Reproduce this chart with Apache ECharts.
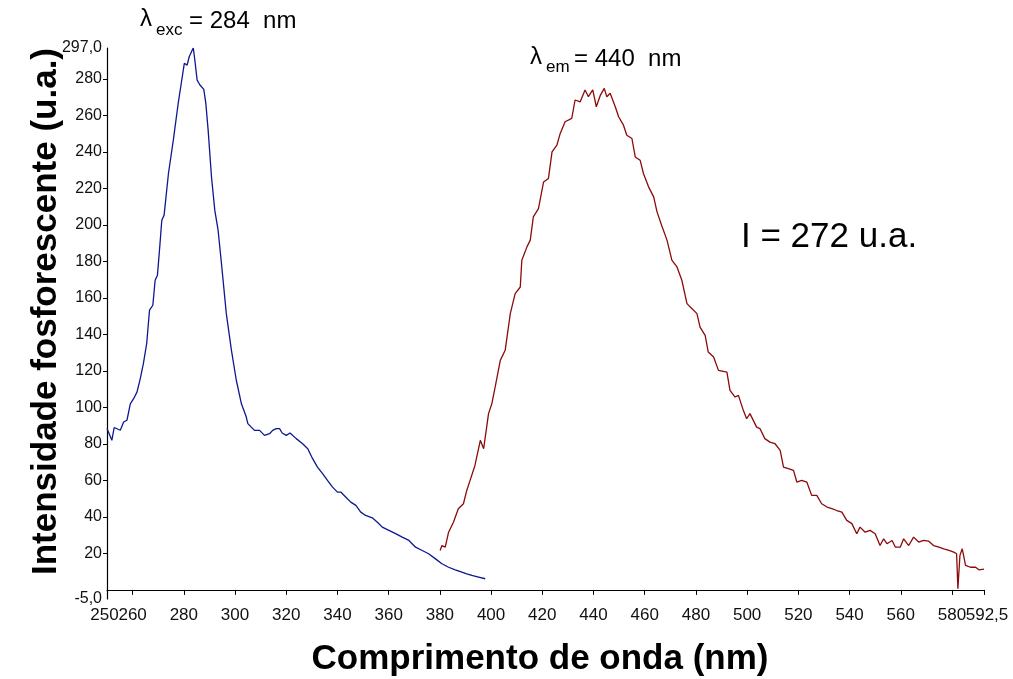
<!DOCTYPE html>
<html>
<head>
<meta charset="utf-8">
<script src="https://cdn.jsdelivr.net/npm/echarts@6/dist/echarts.min.js"></script>
<style>
  html, body { margin: 0; padding: 0; background: #fff; }
  #chart { width: 1013px; height: 679px; }
</style>
</head>
<body>
<div id="chart"></div>
<script>
// excitation spectrum (blue)
const excWavelength = [250, 251.9, 252.8, 255.2, 256.5, 257.8, 259.1, 260.4, 261.7, 263, 264.2, 265.5, 266.6, 267.9, 268.8, 269.7, 270.7, 271.4, 272.3, 274, 275.9, 277.8, 279.1, 280.2, 281.3, 282.1, 283, 283.7, 284.3, 285.2, 286.3, 287.8, 288.6, 289.5, 290.8, 292.1, 293.4, 294.7, 296.6, 298.6, 300.5, 302.5, 304.4, 305, 307.6, 309.6, 311.5, 313.5, 314.7, 316.1, 317.4, 318.4, 320, 321.5, 323.9, 326.4, 328.4, 330.3, 332.2, 334.2, 336.1, 338.1, 340, 341.3, 343.3, 345.2, 347.2, 349.1, 351, 353.6, 355.6, 357.5, 360.1, 362.7, 365.3, 367.9, 370.5, 373.1, 375.6, 378.3, 380.8, 383.4, 386, 388.6, 390.5, 392.5, 395.1, 397.7];
const excIntensity = [88.4, 82, 89, 87.5, 92, 93, 102, 104.8, 108.4, 115.8, 124, 135, 153.3, 156, 169.7, 172.5, 189.8, 202.6, 205.4, 228.2, 246.5, 266.6, 278.5, 288.6, 287.6, 292.2, 295, 297, 290.4, 279.4, 276.7, 274.3, 266.6, 252, 226.4, 208, 197, 178.9, 151.4, 131.3, 114.9, 102, 94.7, 91.1, 87.4, 87.4, 84.7, 85.6, 87.4, 88.4, 88.4, 86, 84.7, 86, 82.9, 80.1, 77.4, 71.9, 67.3, 63.7, 60, 56.3, 53.6, 53.6, 50.8, 48.1, 46.3, 42.6, 40.8, 39.5, 37.1, 34.4, 32.6, 30.8, 28.9, 27.1, 23.4, 21.6, 19.8, 17, 14.3, 12.4, 11, 9.7, 8.8, 7.9, 7, 6.1];

// emission spectrum (dark red)
const emWavelength = [380.1, 380.8, 382.1, 383.4, 384.0, 385.3, 387.2, 389.2, 390.5, 391.8, 393.7, 395.8, 397.1, 399.0, 400.3, 401.6, 403.6, 405.5, 407.5, 409.4, 411.4, 412.0, 414.0, 415.3, 416.5, 418.5, 420.5, 422.4, 423.8, 425.7, 427.0, 428.9, 431.5, 432.8, 434.8, 436.7, 438.0, 439.7, 441.1, 442.7, 444.2, 445.2, 446.5, 448.5, 449.8, 451.7, 453.0, 455.0, 456.3, 458.2, 459.5, 461.5, 463.5, 464.8, 466.8, 468.7, 470.6, 472.6, 474.5, 476.5, 477.8, 480.4, 481.6, 483.6, 484.8, 486.9, 488.8, 492.1, 493.3, 495.3, 496.6, 498.5, 499.8, 501.1, 503.7, 505.0, 506.9, 508.9, 510.9, 512.9, 514.2, 516.1, 518.1, 519.4, 521.3, 523.3, 525.2, 527.2, 529.1, 531.2, 533.1, 535.0, 537.0, 538.9, 540.9, 542.8, 544.1, 546.1, 548.0, 550.0, 551.9, 553.3, 554.6, 556.6, 557.9, 559.8, 561.1, 563.1, 565.0, 567.0, 568.9, 570.9, 572.8, 574.9, 576.8, 578.8, 580.7, 581.8, 582.3, 583.1, 584.0, 585.3, 587.2, 589.2, 590.5, 592.5];
const emIntensity = [21.6, 24.3, 23.4, 31.6, 30.8, 37.1, 44.5, 47.2, 54.5, 60, 68.2, 82, 77.4, 96.6, 102.1, 111.2, 125.8, 131.3, 151.4, 162.4, 166, 180.7, 188, 191.7, 204.4, 209, 223.6, 225.5, 240.1, 243.8, 250.2, 256.6, 258.4, 268.5, 267.5, 274, 270.3, 274, 264.8, 271.2, 274.9, 270.3, 272.2, 264.8, 259.3, 254.7, 249.2, 247.4, 237.3, 235.5, 228.2, 220.9, 215.4, 207.2, 199, 191.7, 180.7, 177, 169.7, 156.9, 155, 151.4, 144, 139.5, 130.4, 127.6, 120.3, 119.4, 109.4, 105.7, 106.6, 98.4, 93.8, 96.6, 89.2, 88.4, 82.9, 81, 80.1, 76.5, 67.3, 66.4, 65.5, 59.1, 60, 59.1, 51.8, 51.8, 47.2, 45.4, 44.5, 43.5, 42.6, 38.1, 36.3, 30.8, 34.4, 31.6, 32.6, 30.8, 24.3, 28, 25.3, 27.1, 23.4, 23.4, 28, 24.3, 28.9, 26.2, 27.1, 26.7, 24.3, 23.4, 22.5, 21.6, 20.7, 19.8, 0.6, 18.9, 22.5, 13.4, 12.4, 12.4, 11, 11.4];

const xTickValues = [260, 280, 300, 320, 340, 360, 380, 400, 420, 440, 460, 480, 500, 520, 540, 560, 580, 592.5];
const xLabelValues = [260, 280, 300, 320, 340, 360, 380, 400, 420, 440, 460, 480, 500, 520, 540, 560, 580];
const xEndLabels = [250, 592.5];
const yTickValues = [20, 40, 60, 80, 100, 120, 140, 160, 180, 200, 220, 240, 260, 280];
const yLabelValues = [-5, 20, 40, 60, 80, 100, 120, 140, 160, 180, 200, 220, 240, 260, 280, 297];

const fontFam = '"Liberation Sans", Arial, Helvetica, sans-serif'

// decimals written with a comma, like the original
const commaNum = v => Number.isInteger(v) ? String(v) : v.toFixed(1).replace('.', ',')

const zip = (xs, ys) => xs.map((x, i) => [x, ys[i]])

const labelText = { fontFamily: fontFam, fontSize: 17, color: '#111' }

const chart = echarts.init(document.getElementById('chart'))
chart.setOption({
  animation: false,
  grid: { left: 107, right: 29, top: 48, bottom: 80, outerBoundsMode: 'none' },
  xAxis: [
    {
      type: 'value',
      min: 250,
      max: 592.5,
      name: 'Comprimento de onda (nm)',
      nameLocation: 'middle',
      nameGap: 43,
      nameMoveOverlap: false,
      nameTextStyle: { fontFamily: fontFam, fontSize: 35, fontWeight: 'bold', color: '#000', padding: [0, 11, 0, 0] },
      splitLine: { show: false },
      axisLine: { lineStyle: { color: '#000', width: 1.2 } },
      axisTick: { show: true, length: 5, customValues: xTickValues, lineStyle: { color: '#000' } },
      axisLabel: { ...labelText, margin: 8, hideOverlap: false, customValues: xLabelValues, formatter: v => commaNum(v) }
    },
    {
      // second axis only for the end labels 250 and 592,5 (they touch their neighbours)
      type: 'value',
      position: 'bottom',
      min: 250,
      max: 592.5,
      splitLine: { show: false },
      axisLine: { show: false },
      axisTick: { show: false },
      axisLabel: {
        ...labelText,
        margin: 8,
        hideOverlap: false,
        showMinLabel: true,
        showMaxLabel: true,
        customValues: xEndLabels,
        formatter: v => v === 250 ? '{l|250}' : '{r|' + commaNum(v) + '}',
        rich: {
          l: { ...labelText, padding: [0, 5, 0, 0] },
          r: { ...labelText, padding: [0, 0, 0, 6] }
        }
      }
    }
  ],
  yAxis: {
    type: 'value',
    min: -5,
    max: 297,
    name: 'Intensidade fosforescente (u.a.)',
    nameLocation: 'middle',
    nameGap: 43,
    nameMoveOverlap: false,
    nameTextStyle: { fontFamily: fontFam, fontSize: 35, fontWeight: 'bold', color: '#000', padding: [0, 0, 0, 24] },
    splitLine: { show: false },
    axisLine: { show: true, lineStyle: { color: '#000', width: 1.2 } },
    axisTick: { show: true, length: 4, customValues: yTickValues, lineStyle: { color: '#000' } },
    axisLabel: {
      customValues: yLabelValues,
      showMinLabel: true,
      showMaxLabel: true,
      hideOverlap: false,
      margin: 5,
      fontFamily: fontFam,
      fontSize: 16,
      color: '#111',
      formatter: v => (v === -5 || v === 297) ? v.toFixed(1).replace('.', ',') : String(v)
    }
  },
  series: [
    {
      type: 'line',
      data: zip(excWavelength, excIntensity),
      showSymbol: false,
      lineStyle: { color: '#0d1790', width: 1.3 },
      itemStyle: { color: '#0d1790' }
    },
    {
      type: 'line',
      data: zip(emWavelength, emIntensity),
      showSymbol: false,
      lineStyle: { color: '#8b0a0a', width: 1.3 },
      itemStyle: { color: '#8b0a0a' }
    }
  ],
  graphic: [
    { type: 'text', left: 140, top: 7, style: { text: 'λ', font: '24px ' + fontFam, fill: '#000' } },
    { type: 'text', left: 156, top: 22, style: { text: 'exc', font: '17px ' + fontFam, fill: '#000' } },
    { type: 'text', left: 189, top: 9, style: { text: '= 284  nm', font: '24px ' + fontFam, fill: '#000' } },
    { type: 'text', left: 530, top: 45, style: { text: 'λ', font: '24px ' + fontFam, fill: '#000' } },
    { type: 'text', left: 546, top: 59, style: { text: 'em', font: '17px ' + fontFam, fill: '#000' } },
    { type: 'text', left: 574, top: 47, style: { text: '= 440  nm', font: '24px ' + fontFam, fill: '#000' } },
    { type: 'text', left: 741, top: 220, style: { text: 'I = 272 u.a.', font: '35px ' + fontFam, fill: '#000' } }
  ]
})
</script>
</body>
</html>
